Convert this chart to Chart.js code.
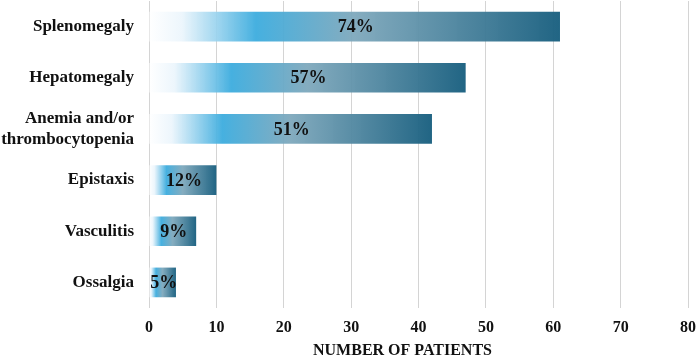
<!DOCTYPE html>
<html>
<head>
<meta charset="utf-8">
<script src="https://cdn.jsdelivr.net/npm/chart.js@4/dist/chart.umd.min.js"></script>
<style>
  html, body { margin: 0; padding: 0; background: #fff; }
  #wrap { width: 700px; height: 359px; }
</style>
</head>
<body>
<div id="wrap"><canvas id="myChart"></canvas></div>
<script>
// Categories on the y-axis
var symptoms = ['Splenomegaly', 'Hepatomegaly', ['Anemia and/or', 'thrombocytopenia'], 'Epistaxis', 'Vasculitis', 'Ossalgia'];
// Number of patients for each symptom
var patients = [61, 47, 42, 10, 7, 4];
// Percent labels printed inside the bars
var percents = ['74%', '57%', '51%', '12%', '9%', '5%'];

var serif = '"Liberation Serif", "Times New Roman", serif';

// Fade from white to blue to dark teal along each bar
function barGradient(context) {
  var chart = context.chart;
  if (!chart.chartArea) return '#3c8fb5';
  var x = chart.scales.x;
  var v = context.raw;
  var x0 = x.getPixelForValue(0);
  var x1 = x.getPixelForValue(v);
  if (x1 - x0 < 1) x1 = x0 + 1;
  var g = chart.ctx.createLinearGradient(x0, 0, x1, 0);
  g.addColorStop(0, 'rgba(255,255,255,0.9)');
  g.addColorStop(0.08, 'rgba(235,245,252,0.9)');
  g.addColorStop(0.26, 'rgba(60,172,222,0.95)');
  g.addColorStop(0.5, 'rgba(126,168,188,0.95)');
  g.addColorStop(1, 'rgba(26,96,128,0.97)');
  return g;
}

// Draw the percent in the middle of each bar
var pctLabels = {
  id: 'pctLabels',
  afterDatasetsDraw: function(chart) {
    var ctx = chart.ctx;
    var meta = chart.getDatasetMeta(0);
    ctx.save();
    ctx.font = 'bold 18px ' + serif;
    ctx.fillStyle = '#111';
    ctx.textAlign = 'center';
    ctx.textBaseline = 'middle';
    meta.data.forEach(function(bar, i) {
      var cx = (bar.x + bar.base) / 2;
      ctx.fillText(percents[i], cx + 1, bar.y + 1);
    });
    ctx.restore();
  }
};

var ctx = document.getElementById('myChart');
var myChart = new Chart(ctx, {
  type: 'bar',
  data: {
    labels: symptoms,
    datasets: [{
      data: patients,
      backgroundColor: barGradient,
      borderWidth: 0,
      categoryPercentage: 0.58,
      barPercentage: 1
    }]
  },
  plugins: [pctLabels],
  options: {
    indexAxis: 'y',
    responsive: true,
    maintainAspectRatio: false,
    animation: false,
    layout: { padding: { top: 1, right: 12, left: 0, bottom: 0 } },
    plugins: {
      legend: { display: false },
      tooltip: { enabled: false }
    },
    scales: {
      x: {
        min: 0,
        max: 80,
        ticks: {
          stepSize: 10,
          color: '#111',
          padding: 10,
          font: { family: serif, size: 16, weight: 'bold' }
        },
        grid: { color: '#d4d4d4', drawTicks: false },
        border: { display: false },
        title: {
          display: true,
          text: 'NUMBER OF PATIENTS\u00a0\u00a0\u00a0\u00a0\u00a0\u00a0\u00a0\u00a0',
          color: '#111',
          padding: { top: 3, bottom: -1 },
          font: { family: serif, size: 16, weight: 'bold' }
        },
        afterFit: function(scale) {
          scale.height = 51;
          scale.paddingLeft = 0;
          scale.paddingRight = 0;
        }
      },
      y: {
        ticks: {
          color: '#111',
          padding: 15,
          font: { family: serif, size: 17, weight: 'bold' }
        },
        grid: { display: false, drawTicks: false },
        border: { display: false },
        afterFit: function(scale) {
          scale.width = 149;
          scale.paddingTop = 0;
          scale.paddingBottom = 0;
        }
      }
    }
  }
});
</script>
</body>
</html>
